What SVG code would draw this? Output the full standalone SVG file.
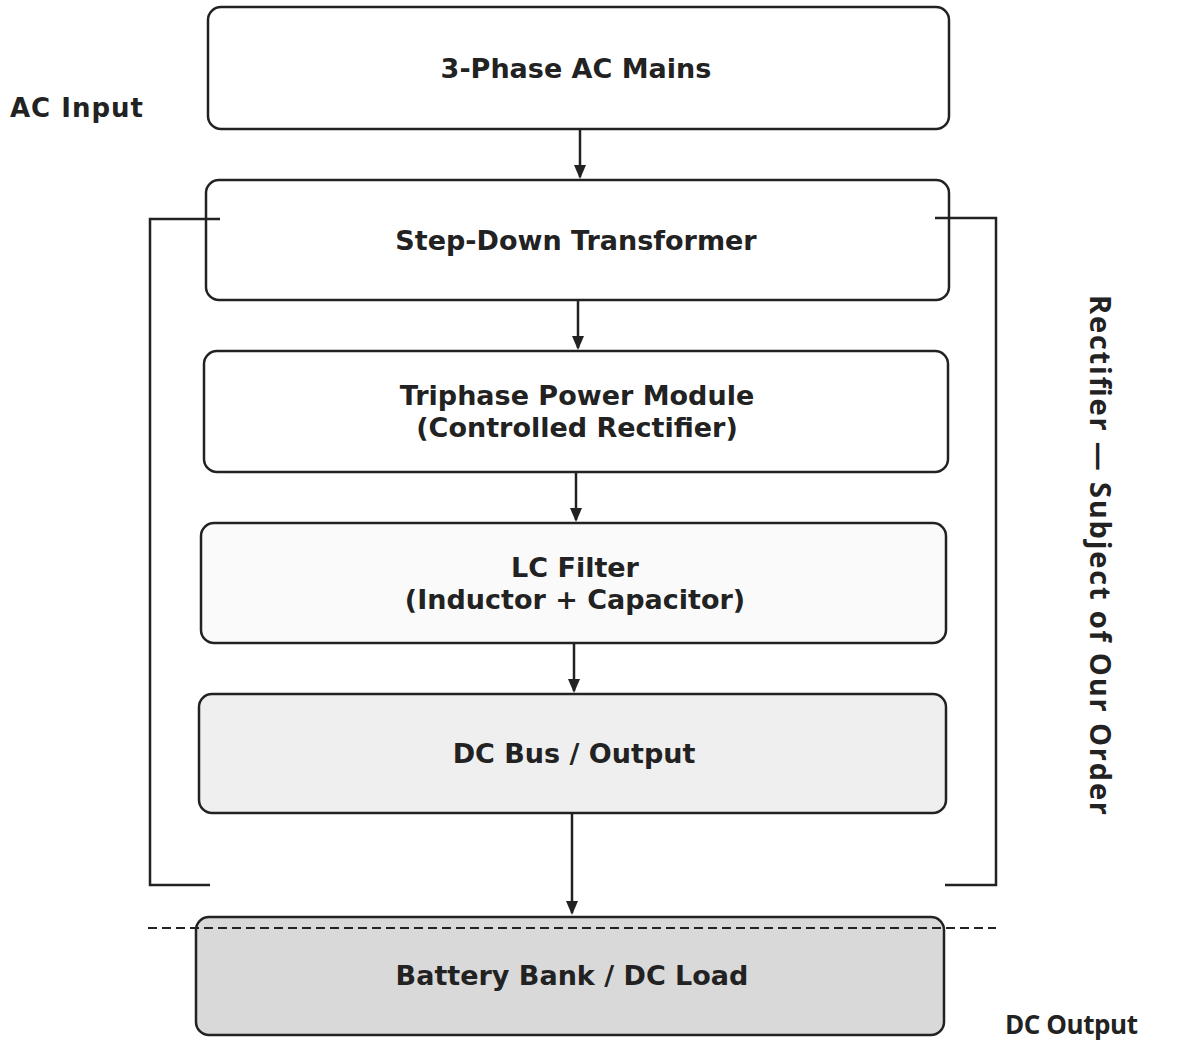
<svg xmlns="http://www.w3.org/2000/svg" width="1179" height="1040" viewBox="0 0 1179 1040">
<style>
.box{fill:#ffffff;stroke:#222;stroke-width:2.5}
.t{font-family:"DejaVu Sans",Verdana,sans-serif;font-weight:bold;font-size:27px;fill:#222;text-anchor:middle}
.side{font-family:"Open Sans","Noto Sans",sans-serif;font-weight:bold;font-size:26px;fill:#222}
.ln{fill:none;stroke:#222;stroke-width:2.5}
.dash{fill:none;stroke:#222;stroke-width:2;stroke-dasharray:9 5}
</style>
<defs>
<marker id="ah" markerWidth="14" markerHeight="14" refX="12" refY="7" orient="auto" markerUnits="userSpaceOnUse">
<path d="M0,1 L14,7 L0,13 z" fill="#222"/>
</marker>
</defs>
<rect width="1179" height="1040" fill="#ffffff"/>

<g id="mains">
<rect class="box" x="208" y="7" width="741" height="122" rx="13"/>
<text class="t" x="576" y="78">3-Phase AC Mains</text>
</g>
<g id="transformer">
<rect class="box" x="206" y="180" width="743" height="120" rx="13"/>
<text class="t" x="576" y="250">Step-Down Transformer</text>
</g>
<g id="module">
<rect class="box" x="204" y="351" width="744" height="121" rx="13"/>
<text class="t" x="577" y="405">Triphase Power Module</text>
<text class="t" x="577" y="437">(Controlled Rectifier)</text>
</g>
<g id="filter">
<rect class="box" x="201" y="523" width="745" height="120" rx="13" style="fill:#fafafa"/>
<text class="t" x="575" y="577">LC Filter</text>
<text class="t" x="575" y="609">(Inductor + Capacitor)</text>
</g>
<g id="dcbus">
<rect class="box" x="199" y="694" width="747" height="119" rx="13" style="fill:#efefef"/>
<text class="t" x="574" y="763">DC Bus / Output</text>
</g>
<g id="battery">
<rect class="box" x="196" y="917" width="748" height="118" rx="13" style="fill:#d9d9d9"/>
<text class="t" x="572" y="985">Battery Bank / DC Load</text>
</g>

<g id="connectors">
<line class="ln" x1="580" y1="129" x2="580" y2="177" marker-end="url(#ah)"/>
<line class="ln" x1="578" y1="300" x2="578" y2="348" marker-end="url(#ah)"/>
<line class="ln" x1="576" y1="472" x2="576" y2="520" marker-end="url(#ah)"/>
<line class="ln" x1="574" y1="643" x2="574" y2="691" marker-end="url(#ah)"/>
<line class="ln" x1="572" y1="813" x2="572" y2="913" marker-end="url(#ah)"/>
</g>

<g id="brackets">
<polyline class="ln" points="220,219 150,219 150,885 210,885"/>
<polyline class="ln" points="935,218 996,218 996,885 945,885"/>
<line class="dash" x1="148" y1="928" x2="996" y2="928"/>
</g>

<g id="labels">
<text class="side" x="10" y="117" style="font-family:'DejaVu Sans',Verdana,sans-serif;font-size:26px" textLength="133" lengthAdjust="spacing">AC Input</text>
<text class="side" x="1005" y="1034" textLength="133" lengthAdjust="spacing">DC Output</text>
<text class="side" transform="translate(1090,295) rotate(90)" style="font-size:29px" textLength="520" lengthAdjust="spacing">Rectifier — Subject of Our Order</text>
</g>
</svg>
